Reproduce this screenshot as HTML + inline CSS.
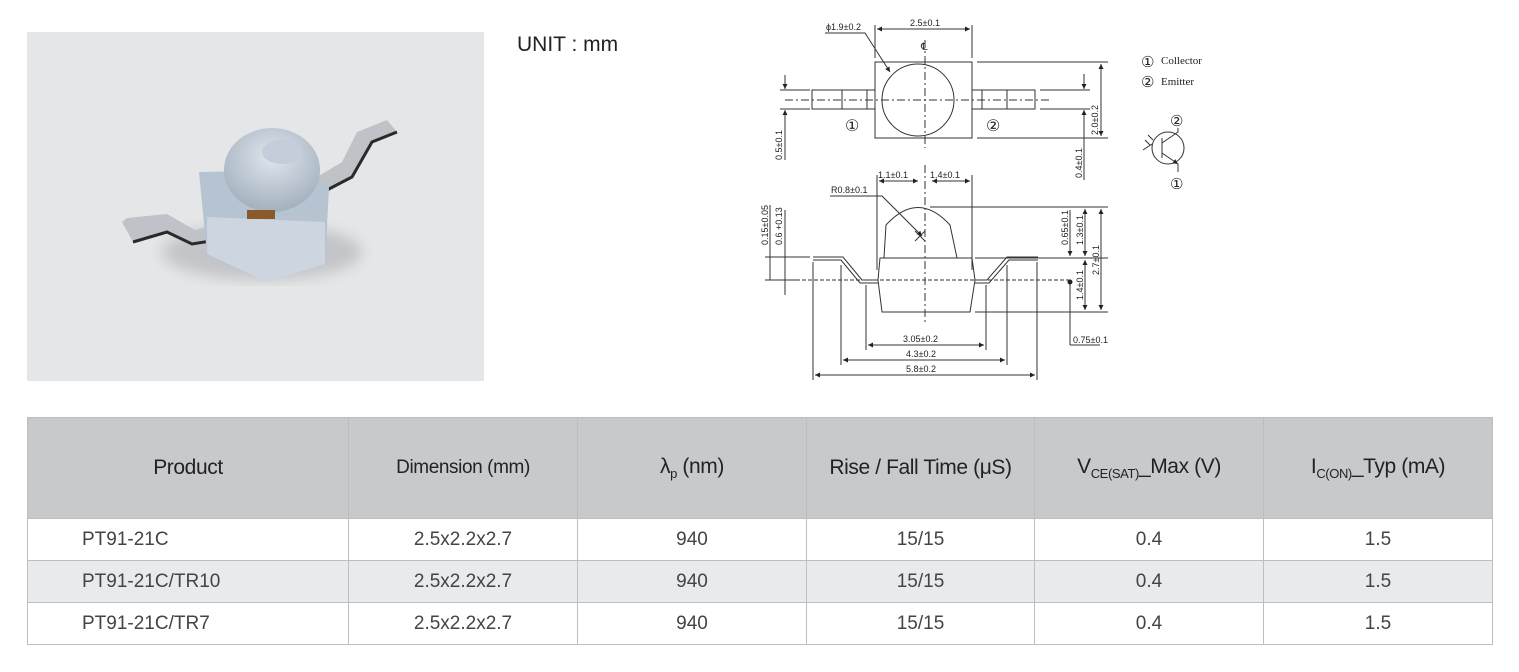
<!DOCTYPE html>
<html><head><meta charset="utf-8"><style>
body{margin:0;width:1519px;height:672px;background:#fff;position:relative;overflow:hidden;font-family:"Liberation Sans",sans-serif}
.photo{position:absolute;left:27px;top:32px;width:457px;height:349px;background:#e5e6e8}
.unit{position:absolute;left:517px;top:33px;font-size:21px;color:#222}
table{position:absolute;left:27px;top:417px;border-collapse:collapse;width:1465px;table-layout:fixed}
td,th{border:1px solid #bdbec0;text-align:center;color:#444;font-size:19px;font-weight:normal;padding:0}
th{background:#c8c9cb;height:100px;color:#222;font-size:21px;letter-spacing:-0.4px}
td{height:41px}
tr.alt td{background:#e9eaeb}
td.l{text-align:left;padding-left:54px}
sub{font-size:13px;vertical-align:-5px}
</style></head><body>
<div class="photo">
<svg width="457" height="349" viewBox="0 0 457 349">
<defs><radialGradient id="dm" cx="0.5" cy="0.35" r="0.65"><stop offset="0" stop-color="#dfe6ee"/><stop offset="1" stop-color="#a3b0be"/></radialGradient>
<filter id="bl"><feGaussianBlur stdDeviation="7"/></filter></defs>
<ellipse cx="235" cy="220" rx="100" ry="28" fill="#9a9ca0" opacity="0.45" filter="url(#bl)"/>
<path d="M95 190 L100 186 L140 182 L168 198 L185 194 L190 208 L165 212 L140 200 L106 210 Z" fill="#bfc3c8"/>
<path d="M106 210 L140 200 L165 212 L190 208" fill="none" stroke="#2a2a2a" stroke-width="3"/>
<path d="M290 145 L315 130 L330 100 L360 88 L370 100 L345 110 L325 145 L300 158 Z" fill="#bfc3c8"/>
<path d="M370 100 L345 110 L325 145 L300 158" fill="none" stroke="#2a2a2a" stroke-width="3"/>
<path d="M172 140 L280 138 L302 155 L298 232 L240 250 L180 222 Z" fill="#b6c3d1"/>
<path d="M180 185 L298 190 L298 232 L240 250 L180 222 Z" fill="#cdd6e0"/>
<ellipse cx="245" cy="138" rx="48" ry="42" fill="url(#dm)"/>
<ellipse cx="255" cy="120" rx="20" ry="12" fill="#c3ceda"/>
<rect x="220" y="178" width="28" height="9" fill="#8a5a2a"/>
</svg>
</div>
<div class="unit">UNIT : mm</div>
<svg style="position:absolute;left:0;top:0" width="1519" height="400" font-family="Liberation Sans Narrow, Liberation Sans, sans-serif" font-size="9" fill="#222">
<defs><marker id="a" viewBox="0 0 10 10" refX="10" refY="5" markerWidth="7" markerHeight="5" orient="auto-start-reverse"><path d="M0 0L10 5L0 10z" fill="#222"/></marker></defs>
<g stroke="#333" stroke-width="1" fill="none">
<rect x="875" y="62" width="97" height="76"/>
<circle cx="918" cy="100" r="36"/>
<rect x="812" y="90" width="63" height="19"/><line x1="842" y1="90" x2="842" y2="109"/><line x1="867" y1="90" x2="867" y2="109"/>
<rect x="972" y="90" width="63" height="19"/><line x1="982" y1="90" x2="982" y2="109"/><line x1="1007" y1="90" x2="1007" y2="109"/>
<line x1="785" y1="100" x2="1050" y2="100" stroke-dasharray="8,3,2,3"/>
<line x1="925" y1="40" x2="925" y2="148" stroke-dasharray="8,3,2,3"/>
<line x1="875" y1="25" x2="875" y2="58"/><line x1="972" y1="25" x2="972" y2="58"/>
<line x1="877" y1="29" x2="970" y2="29" marker-start="url(#a)" marker-end="url(#a)"/>
<path d="M825 33 L865 33 L890 72" marker-end="url(#a)"/>
<line x1="977" y1="62" x2="1108" y2="62"/><line x1="977" y1="138" x2="1108" y2="138"/>
<line x1="1101" y1="64" x2="1101" y2="136" marker-start="url(#a)" marker-end="url(#a)"/>
<line x1="1040" y1="90" x2="1090" y2="90"/><line x1="1040" y1="109" x2="1090" y2="109"/>
<line x1="1084" y1="74" x2="1084" y2="89" marker-end="url(#a)"/><line x1="1084" y1="125" x2="1084" y2="110" marker-end="url(#a)"/><line x1="1084" y1="125" x2="1084" y2="180"/>
<line x1="780" y1="90" x2="810" y2="90"/><line x1="780" y1="109" x2="810" y2="109"/>
<line x1="785" y1="75" x2="785" y2="89" marker-end="url(#a)"/><line x1="785" y1="125" x2="785" y2="110" marker-end="url(#a)"/><line x1="785" y1="125" x2="785" y2="160"/>
<circle cx="1168" cy="148" r="16"/>
<line x1="1162" y1="138" x2="1162" y2="158"/><line x1="1162" y1="143" x2="1178" y2="132"/><line x1="1162" y1="153" x2="1178" y2="164" marker-end="url(#a)"/>
<line x1="1178" y1="132" x2="1178" y2="128"/><line x1="1178" y1="164" x2="1178" y2="172"/>
<path d="M1145 140 L1150 145 M1148 135 L1153 140 M1143 150 L1152 144"/>
<path d="M884 258 L886 225 Q918 190 950 225 L957 258"/>
<path d="M880 258 L972 258 L975 280 L970 312 L882 312 L878 280 Z"/>
<path d="M813 257 L843 257 L862 280 L878 280"/><path d="M813 260 L841 260 L860 283 L878 283"/>
<path d="M1038 257 L1007 257 L987 280 L975 280"/><path d="M1038 260 L1009 260 L989 283 L975 283"/>
<line x1="790" y1="280" x2="1070" y2="280" stroke-dasharray="4,2"/>
<line x1="925" y1="165" x2="925" y2="325" stroke-dasharray="8,3,2,3"/>
<line x1="877" y1="175" x2="877" y2="270"/><line x1="972" y1="175" x2="972" y2="270"/>
<line x1="879" y1="181" x2="918" y2="181" marker-start="url(#a)" marker-end="url(#a)"/><line x1="932" y1="181" x2="970" y2="181" marker-start="url(#a)" marker-end="url(#a)"/>
<path d="M830 196 L882 196 L922 236" marker-end="url(#a)"/>
<path d="M915 231 L925 241 M915 241 L925 231"/>
<line x1="930" y1="207" x2="1108" y2="207"/><line x1="975" y1="258" x2="1108" y2="258"/><line x1="975" y1="312" x2="1108" y2="312"/>
<line x1="1070" y1="210" x2="1070" y2="256" marker-end="url(#a)"/><line x1="1070" y1="282" x2="1070" y2="345"/>
<line x1="1085" y1="209" x2="1085" y2="256" marker-start="url(#a)" marker-end="url(#a)"/>
<line x1="1085" y1="260" x2="1085" y2="310" marker-start="url(#a)" marker-end="url(#a)"/>
<line x1="1101" y1="209" x2="1101" y2="310" marker-start="url(#a)" marker-end="url(#a)"/>
<line x1="1070" y1="345" x2="1100" y2="345"/>
<line x1="770" y1="205" x2="770" y2="280"/><line x1="785" y1="210" x2="785" y2="295"/>
<line x1="765" y1="257" x2="810" y2="257"/><line x1="765" y1="280" x2="800" y2="280"/>
<line x1="813" y1="262" x2="813" y2="380"/><line x1="1037" y1="262" x2="1037" y2="380"/>
<line x1="841" y1="265" x2="841" y2="365"/><line x1="1007" y1="265" x2="1007" y2="365"/>
<line x1="866" y1="285" x2="866" y2="350"/><line x1="986" y1="285" x2="986" y2="350"/>
<line x1="868" y1="345" x2="984" y2="345" marker-start="url(#a)" marker-end="url(#a)"/>
<line x1="843" y1="360" x2="1005" y2="360" marker-start="url(#a)" marker-end="url(#a)"/>
<line x1="815" y1="375" x2="1035" y2="375" marker-start="url(#a)" marker-end="url(#a)"/>
</g>
<circle cx="1070" cy="282" r="2.5" fill="#222"/>
<text x="910" y="26">2.5±0.1</text><text x="826" y="30">ϕ1.9±0.2</text><text x="921" y="50" font-size="10">℄</text>
<text x="845" y="131" font-size="16">①</text><text x="986" y="131" font-size="16">②</text>
<text x="1141" y="67" font-size="15">①</text><text x="1161" y="64" font-family="Liberation Serif,serif" font-size="11">Collector</text>
<text x="1141" y="87" font-size="15">②</text><text x="1161" y="85" font-family="Liberation Serif,serif" font-size="11">Emitter</text>
<text x="1170" y="126" font-size="15">②</text><text x="1170" y="189" font-size="15">①</text>
<text x="878" y="178">1.1±0.1</text><text x="930" y="178">1.4±0.1</text><text x="831" y="193">R0.8±0.1</text>
<text x="903" y="342">3.05±0.2</text><text x="906" y="357">4.3±0.2</text><text x="906" y="372">5.8±0.2</text>
<text x="1073" y="343">0.75±0.1</text>
<g transform="rotate(-90)">
<text x="-135" y="1098">2.0±0.2</text><text x="-178" y="1082">0.4±0.1</text><text x="-160" y="782">0.5±0.1</text>
<text x="-245" y="1068">0.65±0.1</text><text x="-245" y="1083">1.3±0.1</text><text x="-275" y="1099">2.7±0.1</text><text x="-300" y="1083">1.4±0.1</text>
<text x="-245" y="768">0.15±0.05</text><text x="-245" y="782">0.6 +0.13</text>
</g>
</svg>
<table>
<colgroup><col style="width:321px"><col style="width:229px"><col style="width:229px"><col style="width:228px"><col style="width:229px"><col style="width:229px"></colgroup>
<tr><th>Product</th><th style="font-size:19px">Dimension (mm)</th><th>λ<sub>p</sub> (nm)</th><th>Rise / Fall Time (μS)</th><th>V<sub>CE(SAT)</sub>_Max (V)</th><th>I<sub>C(ON)</sub>_Typ (mA)</th></tr>
<tr><td class="l">PT91-21C</td><td>2.5x2.2x2.7</td><td>940</td><td>15/15</td><td>0.4</td><td>1.5</td></tr>
<tr class="alt"><td class="l">PT91-21C/TR10</td><td>2.5x2.2x2.7</td><td>940</td><td>15/15</td><td>0.4</td><td>1.5</td></tr>
<tr><td class="l">PT91-21C/TR7</td><td>2.5x2.2x2.7</td><td>940</td><td>15/15</td><td>0.4</td><td>1.5</td></tr>
</table>
</body></html>
